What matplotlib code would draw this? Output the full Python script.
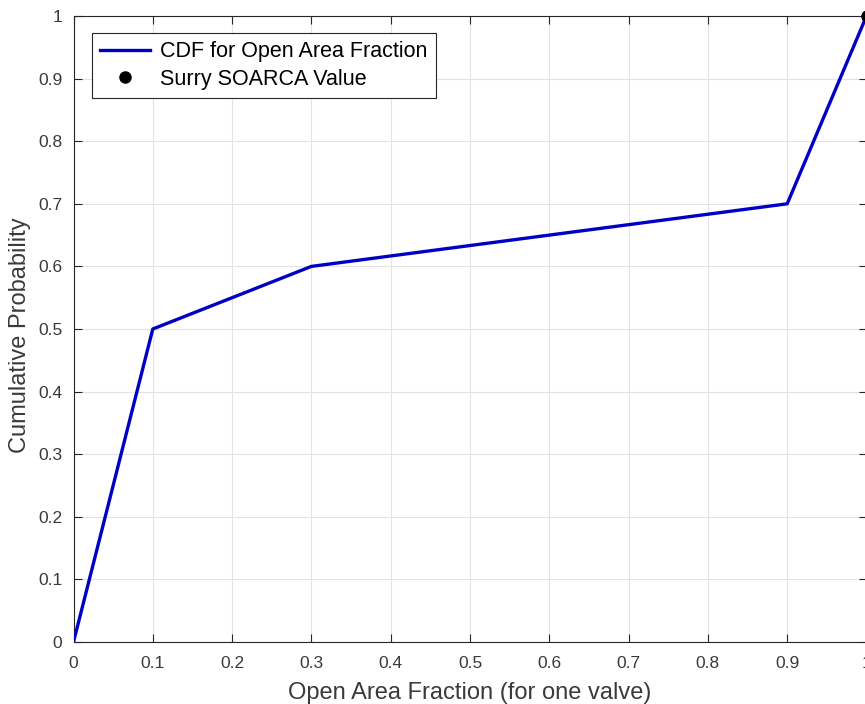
import numpy as np
import matplotlib.pyplot as plt

# CDF data
frac = [0.0, 0.1, 0.3, 0.9, 1.0]
cum_prob = [0.0, 0.5, 0.6, 0.7, 1.0]
soarca_x = [1.0]
soarca_y = [1.0]
ticks = [0, 0.1, 0.2, 0.3, 0.4, 0.5, 0.6, 0.7, 0.8, 0.9, 1]
tick_labels = ["0", "0.1", "0.2", "0.3", "0.4", "0.5", "0.6", "0.7", "0.8", "0.9", "1"]

plt.rcParams['font.family'] = ['Liberation Sans', 'DejaVu Sans']
grigio = "#262626"
grigio_testo = "#3a3a3a"

fig = plt.figure(figsize=(8.65, 7.04), dpi=100)
ax = fig.add_axes([73.5/865, 1 - 642/704, 793/865, 626/704])

ax.plot(frac, cum_prob, color="#0000C4", lw=2.4, label="CDF for Open Area Fraction", zorder=3)
ax.plot(soarca_x, soarca_y, "o", color="black", ms=8, label="Surry SOARCA Value",
        zorder=4, clip_on=False)

ax.set_xlim(0, 1)
ax.set_ylim(0, 1)
ax.set_xticks(ticks)
ax.set_xticklabels(tick_labels)
ax.set_yticks(ticks)
ax.set_yticklabels(tick_labels)
ax.grid(True, color="#e3e3e3", lw=0.8)
ax.set_axisbelow(True)
ax.tick_params(direction="in", length=6, width=0.8, color=grigio, labelcolor=grigio_testo,
               labelsize=12.5, top=True, right=True)
ax.tick_params(axis="x", pad=10)
ax.tick_params(axis="y", pad=8)
for s in ax.spines.values():
    s.set_color(grigio)
    s.set_linewidth(0.8)

ax.set_xlabel("Open Area Fraction (for one valve)", fontsize=17, color=grigio_testo, labelpad=8)
ax.set_ylabel("Cumulative Probability", fontsize=17, color=grigio_testo)
ax.yaxis.set_label_coords(-0.054, 0.49)

leg = ax.legend(loc="upper left", bbox_to_anchor=(18.5/793, 1 - 17/626), fontsize=15.5,
                frameon=True, fancybox=False, edgecolor=grigio, framealpha=1,
                borderpad=0.38, handlelength=2.3, handletextpad=0.5, labelspacing=0.3,
                borderaxespad=0)
leg.get_frame().set_linewidth(0.8)

plt.savefig("out.png", dpi=100)
